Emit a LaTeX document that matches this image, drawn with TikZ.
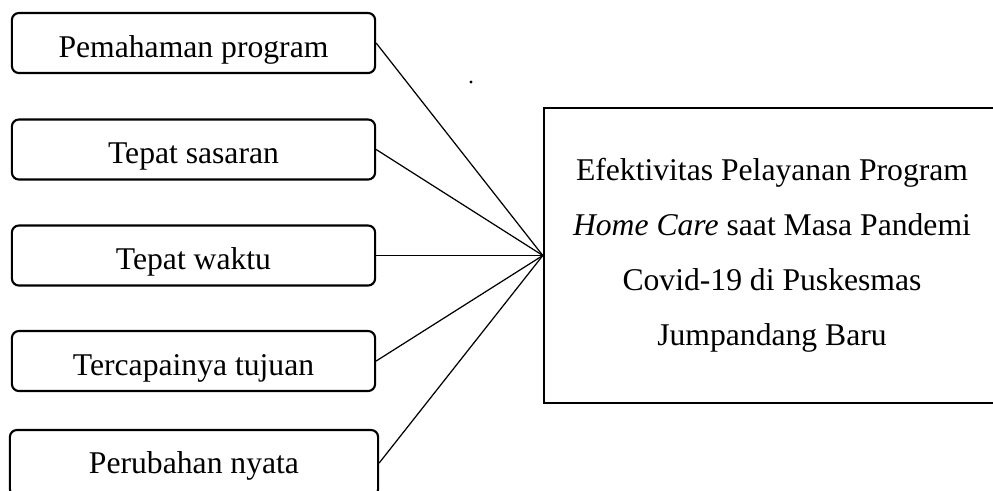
\documentclass[tikz,border=0pt]{standalone}
\usepackage{fontspec}
\setmainfont{Liberation Serif}
\begin{document}
\begin{tikzpicture}[x=0.01cm,y=-0.01cm,
	factor/.style={draw,line width=0.6pt,rounded corners=2pt,
		minimum width=3.63cm,minimum height=0.6cm,inner sep=0pt,
		text height=0.44cm,text depth=0.16cm,
		font=\fontsize{9}{11}\selectfont},
	meta/.style={draw,line width=0.6pt,minimum width=4.56cm,
		minimum height=2.95cm,inner sep=0pt,align=center,
		font=\fontsize{9}{15.6}\selectfont},
	enlace/.style={line width=0.35pt}]
\useasboundingbox (0,0) rectangle (993,490);
% variabel dependen
\node[meta] (efek) at (772,255.5)
	{Efektivitas Pelayanan Program\\
	 \textit{Home Care} saat Masa Pandemi\\
	 Covid-19 di Puskesmas\\
	 Jumpandang Baru};
% indikator
\foreach \Yc/\Texto [count=\i] in 
{43/Pemahaman program,149.5/Tepat sasaran,255.5/Tepat waktu,
 361/Tercapainya tujuan}
{
	\node[factor] (f\i) at (193.5,\Yc) {\Texto};
	\draw[enlace] (f\i.east) -- (efek.west);
}
% kotak terakhir terpotong di bawah
\node[factor,minimum width=3.68cm,minimum height=0.66cm,
	text height=0.43cm,text depth=0.23cm] (f5) at (194,463) {Perubahan nyata};
\draw[enlace] (f5.east) -- (efek.west);
\fill (471,82) circle (1.6);
\end{tikzpicture}
\end{document}
